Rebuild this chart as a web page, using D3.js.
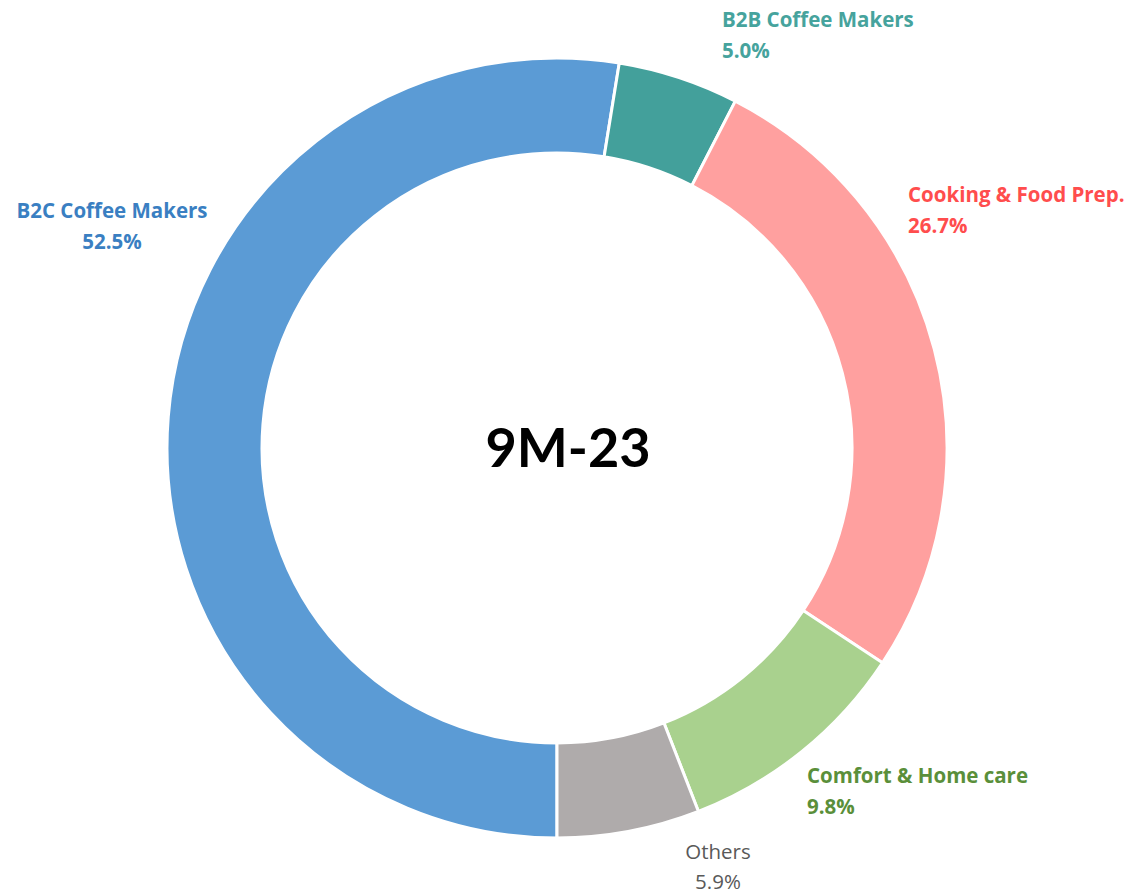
<!DOCTYPE html>
<html>
<head>
    <title>9M-23 Sales Split Donut</title>
    <script src="https://d3js.org/d3.v7.min.js"></script>
    <style>
        body { margin: 0; background: #fff; }
        .seg-label { font-family: "Open Sans", sans-serif; font-size: 20.5px; }
        .center-label { font-family: "Lato", sans-serif; font-weight: 700; font-size: 54px; }
    </style>
</head>
<body>
    <svg id="donut"></svg>

    <script>
        // Data
        var categories = ['B2C Coffee Makers', 'B2B Coffee Makers', 'Cooking & Food Prep.', 'Comfort & Home care', 'Others'];
        var shares = [52.5, 5.0, 26.7, 9.8, 5.9];
        var centerTitle = '9M-23';

        // Styling
        var fills = ['#5B9BD5', '#43A09B', '#FFA09F', '#A9D18E', '#AFABAB'];
        var labelColors = ['#3A7FC2', '#46A39D', '#FF4D4D', '#5A8F3A', '#595959'];
        var labelWeights = [700, 700, 700, 700, 400];
        // label anchor offsets from the chart centre: [dx, dy, anchor, line gap]
        var labelSpots = [
            [-445, -230, 'middle', 31],
            [165, -421, 'start', 31],
            [351, -246, 'start', 31],
            [250, 335, 'start', 31],
            [161, 411, 'middle', 30]
        ];

        var width = 1140, height = 896;
        var cx = 557, cy = 448;
        var outerR = 390, innerR = 295;

        var svg = d3.select('#donut')
            .attr('width', width)
            .attr('height', height);

        var g = svg.append('g').attr('transform', 'translate(' + cx + ',' + cy + ')');

        var nodes = categories.map((c, i) => ({ name: c, value: shares[i], i: i }));

        // first slice starts at the bottom and runs clockwise
        var pie = d3.pie()
            .value(d => d.value)
            .sort(null)
            .startAngle(Math.PI)
            .endAngle(3 * Math.PI);

        var arc = d3.arc()
            .innerRadius(innerR)
            .outerRadius(outerR);

        g.selectAll('.slice')
            .data(pie(nodes))
            .enter().append('path')
            .attr('class', 'slice')
            .attr('d', arc)
            .style('fill', d => fills[d.data.i])
            .style('stroke', '#fff')
            .style('stroke-width', 3);

        // labels
        var labels = g.selectAll('.seg-label')
            .data(nodes)
            .enter().append('text')
            .attr('class', 'seg-label')
            .attr('x', d => labelSpots[d.i][0])
            .attr('y', d => labelSpots[d.i][1])
            .attr('text-anchor', d => labelSpots[d.i][2])
            .style('fill', d => labelColors[d.i])
            .style('font-weight', d => labelWeights[d.i]);

        labels.append('tspan')
            .text(d => d.name);
        labels.append('tspan')
            .attr('x', d => labelSpots[d.i][0])
            .attr('dy', d => labelSpots[d.i][3])
            .text(d => d.value.toFixed(1) + '%');

        // centre text
        g.append('text')
            .attr('class', 'center-label')
            .attr('text-anchor', 'middle')
            .attr('x', 11)
            .attr('y', 19)
            .text(centerTitle);
    </script>
</body>
</html>
